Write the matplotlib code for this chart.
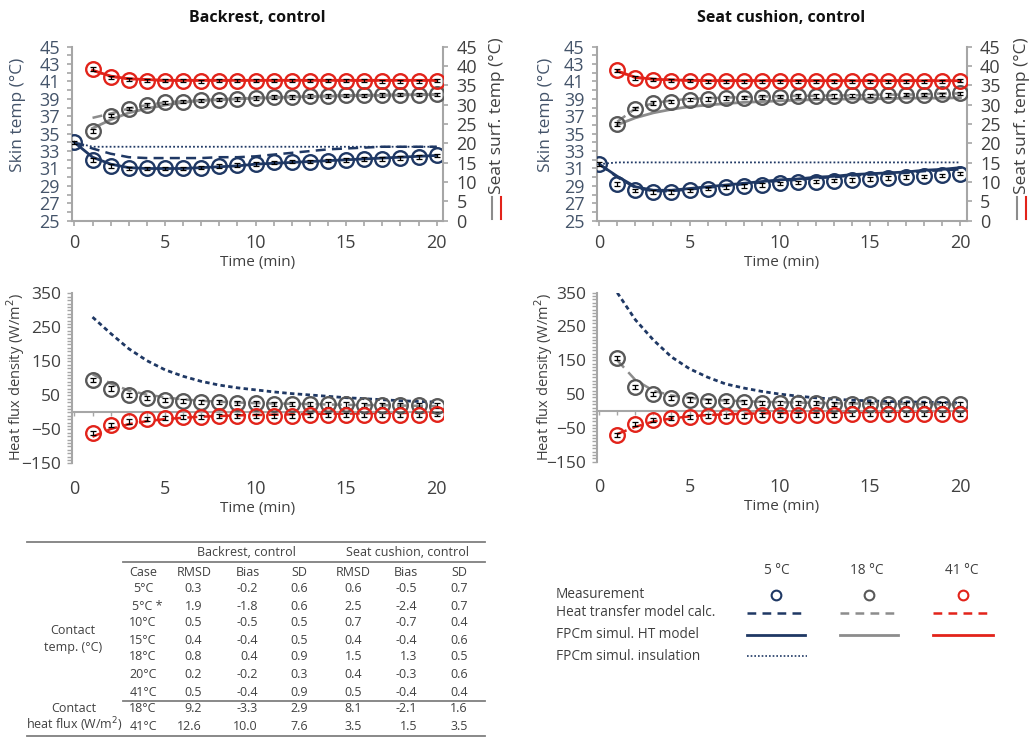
import matplotlib.pyplot as plt
from matplotlib.ticker import MultipleLocator, FixedLocator

plt.rcParams['font.family'] = ['Open Sans', 'DejaVu Sans']

NAVY = '#1F3864'
GREY = '#8C8C8C'
GREY_DARK = '#595959'
RED = '#E2231A'
AXIS = '#A6A6A6'
TXT = '#404040'
SKIN_TXT = '#44546A'

# time axes (min)
t_all = list(range(0, 21))
t_meas = list(range(1, 21))

# ---- Backrest, temperatures ----
# skin temp, 5 degC case (left axis)
back_skin_meas = [34.0, 32.0, 31.3, 31.0, 31.0, 31.0, 31.0, 31.1, 31.3, 31.4, 31.5,
                  31.7, 31.8, 31.8, 31.9, 32.0, 32.1, 32.1, 32.2, 32.3, 32.5]
back_skin_calc = [34.0, 33.3, 32.7, 32.3, 32.2, 32.2, 32.2, 32.2, 32.3, 32.3, 32.4,
                  32.6, 32.8, 33.0, 33.2, 33.3, 33.4, 33.5, 33.5, 33.5, 33.5]
back_skin_sim = [34.0, 32.3, 31.5, 31.1, 31.0, 31.0, 31.0, 31.1, 31.2, 31.3, 31.5,
                 31.6, 31.7, 31.8, 31.9, 32.0, 32.1, 32.2, 32.3, 32.4, 32.5]
back_skin_ins = [34.0, 33.5, 33.5, 33.5, 33.5, 33.5, 33.5, 33.5, 33.5, 33.5, 33.5,
                 33.5, 33.5, 33.5, 33.5, 33.5, 33.5, 33.5, 33.5, 33.5, 33.5]
# seat surface temp, 18 and 41 degC cases (right axis)
back_s18_meas = [23.2, 27.2, 29.0, 29.9, 30.6, 30.8, 31.1, 31.3, 31.5, 31.7,
                 32.0, 32.0, 32.2, 32.3, 32.4, 32.4, 32.5, 32.6, 32.6, 32.7]
back_s18_calc = [26.6, 27.7, 29.0, 29.9, 30.6, 30.9, 31.1, 31.4, 31.6, 31.8,
                 32.0, 32.1, 32.2, 32.3, 32.4, 32.5, 32.5, 32.6, 32.7, 32.7]
back_s18_sim = [23.9, 26.1, 27.9, 29.0, 29.9, 30.6, 31.1, 31.3, 31.5, 31.7,
                31.8, 32.0, 32.1, 32.2, 32.3, 32.4, 32.4, 32.5, 32.6, 32.6]
back_s41_meas = [39.2, 37.1, 36.5, 36.2, 36.2, 36.2, 36.0, 36.2, 36.2, 36.2,
                 36.2, 36.2, 36.2, 36.2, 36.2, 36.2, 36.0, 36.0, 36.0, 36.2]
back_s41_calc = [38.9, 37.3, 36.7, 36.4, 36.3, 36.3, 36.3, 36.3, 36.3, 36.3,
                 36.3, 36.3, 36.3, 36.3, 36.3, 36.3, 36.3, 36.3, 36.3, 36.3]
back_s41_sim = [38.9, 37.4, 36.7, 36.5, 36.3, 36.3, 36.3, 36.3, 36.3, 36.3,
                36.3, 36.3, 36.3, 36.3, 36.3, 36.3, 36.3, 36.3, 36.3, 36.3]

# ---- Seat cushion, temperatures ----
seat_skin_meas = [31.5, 29.2, 28.5, 28.3, 28.3, 28.5, 28.7, 28.9, 29.0, 29.1, 29.3,
                  29.4, 29.5, 29.6, 29.7, 29.8, 29.9, 30.0, 30.1, 30.2, 30.4]
seat_skin_calc = [31.5, 30.0, 28.8, 28.4, 28.4, 28.6, 28.8, 29.0, 29.2, 29.4, 29.6,
                  29.7, 29.9, 30.0, 30.2, 30.3, 30.4, 30.5, 30.7, 30.8, 30.9]
seat_skin_sim = [31.5, 30.1, 28.9, 28.5, 28.5, 28.7, 28.9, 29.1, 29.3, 29.5, 29.7,
                 29.8, 30.0, 30.1, 30.3, 30.4, 30.5, 30.6, 30.8, 30.9, 31.1]
seat_skin_ins = [31.5, 31.7, 31.7, 31.7, 31.7, 31.7, 31.7, 31.7, 31.7, 31.7, 31.7,
                 31.7, 31.7, 31.7, 31.7, 31.7, 31.7, 31.7, 31.7, 31.7, 31.7]
seat_s18_meas = [25.0, 29.0, 30.4, 30.8, 31.3, 31.5, 31.7, 31.8, 32.0, 32.1,
                 32.2, 32.2, 32.3, 32.4, 32.4, 32.5, 32.6, 32.6, 32.7, 32.9]
seat_s18_calc = [25.6, 29.0, 30.4, 31.1, 31.5, 31.7, 31.8, 32.0, 32.1, 32.2,
                 32.3, 32.3, 32.4, 32.4, 32.5, 32.6, 32.6, 32.7, 32.9, 32.9]
seat_s18_sim = [24.8, 26.6, 27.9, 28.8, 29.5, 29.9, 30.3, 30.6, 30.8, 31.0,
                31.2, 31.3, 31.4, 31.5, 31.5, 31.6, 31.7, 31.7, 31.7, 31.8]
seat_s41_meas = [38.9, 36.9, 36.5, 36.2, 36.2, 36.0, 36.0, 36.0, 36.0, 36.0,
                 36.0, 36.0, 36.0, 36.0, 36.0, 36.0, 36.0, 36.0, 36.0, 36.2]
seat_s41_calc = [38.7, 37.0, 36.6, 36.4, 36.3, 36.2, 36.2, 36.2, 36.2, 36.2,
                 36.2, 36.2, 36.2, 36.2, 36.2, 36.2, 36.2, 36.2, 36.2, 36.2]
seat_s41_sim = [38.7, 37.1, 36.6, 36.4, 36.3, 36.2, 36.2, 36.2, 36.2, 36.2,
                36.2, 36.2, 36.2, 36.2, 36.2, 36.2, 36.2, 36.2, 36.2, 36.2]

# ---- Heat flux density (W/m2), t = 1..20 ----
back_q5_calc = [280, 232, 187, 152, 125, 106, 91, 80, 72, 66,
                60, 55, 51, 47, 43, 40, 37, 34, 32, 30]
back_q18_meas = [96, 70, 52, 43, 37, 34, 31, 29, 27, 26,
                 25, 24, 24, 23, 23, 22, 22, 21, 21, 20]
back_q18_calc = [112, 85, 64, 52, 44, 38, 34, 31, 29, 27,
                 26, 25, 24, 23, 22, 21, 21, 20, 19, 18]
back_q41_meas = [-62, -37, -27, -20, -17, -14, -13, -12, -11, -11,
                 -10, -10, -9, -9, -8, -8, -8, -7, -7, -6]
back_q41_calc = [-72, -49, -35, -26, -20, -16, -13, -11, -9, -8,
                 -7, -6, -5, -4, -4, -3, -2, -2, -1, -1]

seat_q5_calc = [350, 270, 210, 160, 125, 100, 80, 68, 58, 50,
                44, 39, 35, 32, 30, 28, 27, 26, 25, 24]
seat_q18_meas = [156, 72, 49, 39, 34, 30, 29, 27, 25, 24,
                 23, 23, 22, 22, 21, 21, 21, 20, 20, 20]
seat_q18_calc = [150, 92, 60, 46, 39, 34, 31, 29, 27, 26,
                 25, 24, 23, 22, 22, 21, 21, 20, 20, 19]
seat_q41_meas = [-70, -38, -27, -21, -18, -16, -15, -14, -13, -12,
                 -12, -11, -11, -10, -10, -10, -9, -9, -9, -8]
seat_q41_calc = [-68, -47, -31, -22, -16, -12, -10, -8, -7, -6,
                 -5, -5, -4, -4, -3, -3, -2, -2, -2, -1]

# measurement spread (half error bar)
err_skin = 0.2
err_seat = 0.45
err_flux = 6

# ---- error statistics table ----
table_cases = ['5°C', '5°C *', '10°C', '15°C', '18°C', '20°C', '41°C', '18°C', '41°C']
back_rmsd = ['0.3', '1.9', '0.5', '0.4', '0.8', '0.2', '0.5', '9.2', '12.6']
back_bias = ['-0.2', '-1.8', '-0.5', '-0.4', '0.4', '-0.2', '-0.4', '-3.3', '10.0']
back_sd = ['0.6', '0.6', '0.5', '0.5', '0.9', '0.3', '0.9', '2.9', '7.6']
seat_rmsd = ['0.6', '2.5', '0.7', '0.4', '1.5', '0.4', '0.5', '8.1', '3.5']
seat_bias = ['-0.5', '-2.4', '-0.7', '-0.4', '1.3', '-0.3', '-0.4', '-2.1', '1.5']
seat_sd = ['0.7', '0.7', '0.4', '0.6', '0.5', '0.6', '0.4', '1.6', '3.5']

W, H = 1033, 738
fig = plt.figure(figsize=(W / 100, H / 100), dpi=100)

# pixel-based overlay for free text, table and legend
ov = fig.add_axes([0, 0, 1, 1])
ov.set_xlim(0, W)
ov.set_ylim(H, 0)
ov.axis('off')


def px_rect(x0, y0, x1, y1):
    return [x0 / W, 1 - y1 / H, (x1 - x0) / W, (y1 - y0) / H]


def meas(ax, t, y, err, color):
    ax.errorbar(t, y, yerr=err, fmt='none', ecolor='black', elinewidth=0.9,
                capsize=2.5, capthick=0.9, zorder=4)
    ax.plot(t, y, 'o', ms=10.5, mfc='none', mec=color, mew=1.7, zorder=5)


def style_x(ax):
    ax.set_xlim(-0.15, 20.35)
    ax.xaxis.set_major_locator(FixedLocator([0, 5, 10, 15, 20]))
    ax.xaxis.set_minor_locator(MultipleLocator(1))


def temp_panel(rect, skin_meas, skin_calc, skin_sim, skin_ins,
               s18_meas, s18_calc, s18_sim, s41_meas, s41_calc, s41_sim):
    ax = fig.add_axes(rect)
    ax2 = ax.twinx()
    style_x(ax)
    ax.set_ylim(25, 45)
    ax.yaxis.set_major_locator(FixedLocator(range(25, 46, 2)))
    ax.yaxis.set_minor_locator(MultipleLocator(1))
    ax2.set_ylim(0, 45)
    ax2.yaxis.set_major_locator(MultipleLocator(5))

    ax.plot(t_all, skin_ins, color=NAVY, lw=1.3, dashes=(1, 1.2), zorder=2)
    ax.plot(t_all, skin_calc, color=NAVY, lw=1.8, dashes=(4, 2.5), zorder=2)
    ax.plot(t_all, skin_sim, color=NAVY, lw=2.0, zorder=3)
    meas(ax, t_all, skin_meas, err_skin, NAVY)

    ax2.plot(t_meas, s18_calc, color=GREY, lw=1.8, dashes=(4, 2.5), zorder=2)
    ax2.plot(t_meas, s18_sim, color=GREY, lw=2.0, zorder=3)
    meas(ax2, t_meas, s18_meas, err_seat, GREY_DARK)
    ax2.plot(t_meas, s41_calc, color=RED, lw=1.8, dashes=(4, 2.5), zorder=2)
    ax2.plot(t_meas, s41_sim, color=RED, lw=2.0, zorder=3)
    meas(ax2, t_meas, s41_meas, err_seat, RED)

    for s in ('top', 'right'):
        ax.spines[s].set_visible(False)
    for s in ('top', 'left', 'bottom'):
        ax2.spines[s].set_visible(False)
    for a, s in ((ax, 'left'), (ax, 'bottom'), (ax2, 'right')):
        a.spines[s].set_color(AXIS)
        a.spines[s].set_linewidth(1.5)

    ax.tick_params(axis='both', which='both', length=3.6, width=1.2, color=AXIS,
                   labelsize=13)
    ax.tick_params(axis='y', labelcolor=SKIN_TXT, pad=5)
    ax.tick_params(axis='x', labelcolor=TXT, pad=6)
    ax2.tick_params(axis='y', length=3.6, width=1.2, color=AXIS, labelsize=13,
                    labelcolor=TXT, pad=6)
    ax.set_xlabel('Time (min)', fontsize=11, color=TXT, labelpad=2)
    return ax


def flux_panel(rect, q5_calc, q18_meas, q18_calc, q41_meas, q41_calc):
    ax = fig.add_axes(rect)
    style_x(ax)
    ax.set_ylim(-150, 350)
    ax.yaxis.set_major_locator(FixedLocator([-150, -50, 50, 150, 250, 350]))
    ax.yaxis.set_minor_locator(MultipleLocator(10))

    ax.plot(t_meas, q5_calc, color=NAVY, lw=2.0, dashes=(1.6, 1.2), zorder=2)
    ax.plot(t_meas, q18_calc, color=GREY, lw=1.8, dashes=(4, 2.5), zorder=2)
    meas(ax, t_meas, q18_meas, err_flux, GREY_DARK)
    ax.plot(t_meas, q41_calc, color=RED, lw=1.8, dashes=(4, 2.5), zorder=2)
    meas(ax, t_meas, q41_meas, err_flux, RED)

    for s in ('top', 'right'):
        ax.spines[s].set_visible(False)
    ax.spines['left'].set_color(AXIS)
    ax.spines['left'].set_linewidth(1.5)
    ax.spines['bottom'].set_position(('data', 0))
    ax.spines['bottom'].set_color(AXIS)
    ax.spines['bottom'].set_linewidth(1.5)
    ax.tick_params(axis='y', which='both', length=3.6, width=1.0, color=AXIS,
                   labelsize=12.5, labelcolor=TXT, pad=4)
    ax.tick_params(axis='x', which='both', length=3, width=1.0, color=AXIS,
                   labelbottom=False)

    sec = ax.secondary_xaxis(0)
    sec.set_xticks([0, 5, 10, 15, 20])
    sec.spines['bottom'].set_visible(False)
    sec.tick_params(length=0, labelsize=13, labelcolor=TXT, pad=12)
    sec.set_xlabel('Time (min)', fontsize=11, color=TXT, labelpad=2)
    return ax


temp_panel(px_rect(71.7, 46.7, 443, 220.7),
           back_skin_meas, back_skin_calc, back_skin_sim, back_skin_ins,
           back_s18_meas, back_s18_calc, back_s18_sim,
           back_s41_meas, back_s41_calc, back_s41_sim)
temp_panel(px_rect(596.5, 46.7, 966.7, 220.7),
           seat_skin_meas, seat_skin_calc, seat_skin_sim, seat_skin_ins,
           seat_s18_meas, seat_s18_calc, seat_s18_sim,
           seat_s41_meas, seat_s41_calc, seat_s41_sim)
flux_panel(px_rect(71.7, 293.3, 443, 463.3),
           back_q5_calc, back_q18_meas, back_q18_calc, back_q41_meas, back_q41_calc)
flux_panel(px_rect(596.5, 292.7, 966.7, 461.7),
           seat_q5_calc, seat_q18_meas, seat_q18_calc, seat_q41_meas, seat_q41_calc)

# panel titles and axis labels
ov.text(257, 18, 'Backrest, control', ha='center', va='center',
        fontsize=11.5, fontweight='bold', color='#111111')
ov.text(781, 18, 'Seat cushion, control', ha='center', va='center',
        fontsize=11.5, fontweight='bold', color='#111111')
for x in (16, 544):
    ov.text(x + 2, 115, 'Skin temp (°C)', rotation=90, ha='center', va='center',
            fontsize=12.5, color=SKIN_TXT)
    ov.text(x, 377, 'Heat flux density (W/m$^2$)', rotation=90, ha='center',
            va='center', fontsize=10.5, color=TXT)
for x in (497, 1022):
    ov.text(x, 116, 'Seat surf. temp (°C)', rotation=90, ha='center',
            va='center', fontsize=12.5, color=TXT)
    ov.plot([x - 5, x - 5], [197, 219], color=GREY, lw=1.5)
    ov.plot([x + 4, x + 4], [197, 219], color=RED, lw=1.5)

# ---- table ----
tfs = 9
ov.plot([27, 485], [542, 542], color='#7F7F7F', lw=1.3)
ov.plot([123, 485], [562, 562], color='#7F7F7F', lw=1.3)
ov.plot([123, 485], [701, 701], color='#7F7F7F', lw=1.3)
ov.plot([27, 485], [736, 736], color='#7F7F7F', lw=1.3)
ov.text(246, 553, 'Backrest, control', ha='center', va='center', fontsize=tfs, color=TXT)
ov.text(407, 553, 'Seat cushion, control', ha='center', va='center', fontsize=tfs, color=TXT)
for x, h in zip([143, 194, 248, 299, 353, 406, 459],
                ['Case', 'RMSD', 'Bias', 'SD', 'RMSD', 'Bias', 'SD']):
    ov.text(x, 572, h, ha='center', va='center', fontsize=tfs, color=TXT)
row_y = [589, 607, 623, 640, 657, 674, 692, 709, 727]
cols = [(202, back_rmsd), (258, back_bias), (308, back_sd),
        (362, seat_rmsd), (417, seat_bias), (468, seat_sd)]
for i, y in enumerate(row_y):
    ov.text(143 if i != 1 else 147, y, table_cases[i], ha='center', va='center',
            fontsize=tfs, color=TXT)
    for x, col in cols:
        ov.text(x, y, col[i], ha='right', va='center', fontsize=tfs, color=TXT)
ov.text(73, 630, 'Contact', ha='center', va='center', fontsize=tfs, color=TXT)
ov.text(73, 647, 'temp. (°C)', ha='center', va='center', fontsize=tfs, color=TXT)
ov.text(74, 708, 'Contact', ha='center', va='center', fontsize=tfs, color=TXT)
ov.text(74, 725, 'heat flux (W/m$^2$)', ha='center', va='center', fontsize=tfs, color=TXT)

# ---- legend ----
lfs = 9.8
for x, lab in zip([777, 867, 962], ['5 °C', '18 °C', '41 °C']):
    ov.text(x, 571, lab, ha='center', va='center', fontsize=lfs, color=TXT)
for y, lab in zip([595, 613, 635, 656],
                  ['Measurement', 'Heat transfer model calc.',
                   'FPCm simul. HT model', 'FPCm simul. insulation']):
    ov.text(556, y, lab, ha='left', va='center', fontsize=lfs, color=TXT)
for (x0, x1), c, mc in zip([(747, 805), (840, 898), (933, 993)],
                           [NAVY, GREY, RED], [NAVY, GREY_DARK, RED]):
    ov.plot([(x0 + x1) / 2], [595], 'o', ms=7, mfc='none', mec=mc, mew=1.5)
    ov.plot([x0, x1], [613, 613], color=c, lw=1.8, dashes=(3.5, 2.5))
    ov.plot([x0, x1], [635, 635], color=c, lw=2.0)
ov.plot([747, 807], [656, 656], color=NAVY, lw=1.2, dashes=(1, 1.2))

fig.savefig('out.png', dpi=100)
